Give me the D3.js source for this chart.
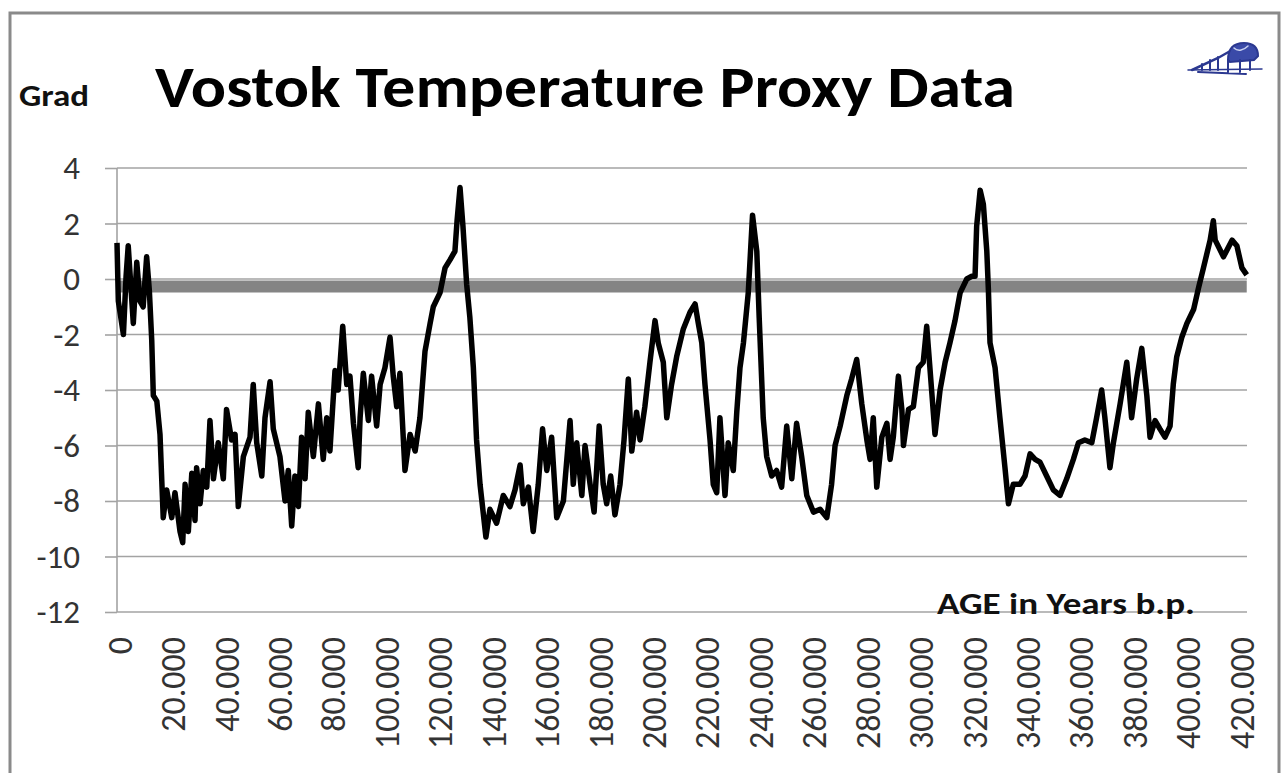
<!DOCTYPE html>
<html>
<head>
<meta charset="utf-8">
<script src="https://cdnjs.cloudflare.com/ajax/libs/d3/7.8.5/d3.min.js"></script>
<style>
  html, body { margin: 0; padding: 0; background: #fff; }
  svg text { font-family: Carlito, Calibri, Lato, sans-serif; }
</style>
</head>
<body>
<div id="plot"></div>
<script>
// Age (years b.p.) and temperature difference (Grad)
let ages = [
    0, 500, 2400, 3400, 4200, 6100, 7400, 8600, 9800, 11100,
    12100, 13000, 13600, 14900, 16100, 17300, 18600, 20500, 21700, 23600,
    24600, 25500, 26700, 28000, 29200, 29800, 31100, 32300, 33600, 34800,
    36100, 37900, 39800, 41000, 42900, 44200, 45400, 47300, 49800, 51000,
    52300, 54200, 55400, 57300, 58500, 61000, 62900, 64100, 65400, 66600,
    67900, 69100, 70400, 71600, 73500, 75400, 77200, 78500, 79700, 81600,
    82800, 84500, 86000, 87200, 88500, 90300, 91000, 92200, 94100, 95300,
    97200, 98500, 100300, 102200, 103400, 104700, 105900, 107800, 109700, 111600,
    113400, 115300, 117200, 118400, 120900, 122800, 124700, 126500, 127300, 128400,
    129500, 130900, 132100, 133400, 134600, 135900, 138100, 139600, 142100, 144600,
    147100, 149000, 150900, 152100, 154000, 155800, 157700, 159300, 160900, 162700,
    164600, 167100, 169600, 170800, 172100, 174000, 175200, 177100, 178600, 180500,
    182000, 183300, 184800, 186400, 188300, 189800, 191400, 192700, 194500, 195800,
    197600, 199500, 201400, 202600, 204500, 205800, 207600, 209500, 212000, 214500,
    216400, 217600, 218900, 220100, 222000, 223200, 224500, 225700, 227600, 228800,
    230700, 232000, 233200, 234500, 236300, 237900, 239500, 240400, 241900, 243200,
    245100, 246900, 248800, 250700, 252600, 254400, 256300, 258200, 260700, 263200,
    265700, 267500, 268800, 270700, 273200, 275000, 276900, 278800, 280700, 281900,
    283100, 284400, 286300, 288200, 289400, 290600, 292500, 293800, 294400, 296300,
    298100, 300000, 301800, 303100, 304300, 306200, 308100, 310000, 311800, 313700,
    315600, 318100, 320000, 321200, 321800, 323100, 324300, 325600, 326200, 326800,
    328700, 330500, 332400, 333700, 335500, 338000, 339900, 341800, 343700, 345500,
    348000, 350500, 353000, 355500, 358000, 359900, 362300, 364900, 366700, 368600,
    369800, 371700, 373000, 375500, 378000, 379800, 381700, 383600, 385500, 386700,
    388600, 390400, 392300, 394200, 395400, 396700, 398600, 400500, 403000, 404900,
    406700, 409200, 410400, 411100, 414200, 417400, 419200, 421100, 422900
];

let temps = [
    1.3, -0.8, -2.0, 0.1, 1.2, -1.6, 0.6, -0.8, -1.0, 0.8,
    -0.4, -2.2, -4.2, -4.4, -5.6, -8.6, -7.6, -8.6, -7.7, -9.1,
    -9.5, -7.4, -9.1, -7.0, -8.7, -6.8, -8.1, -6.9, -7.5, -5.1,
    -7.2, -5.9, -7.2, -4.7, -5.8, -5.6, -8.2, -6.4, -5.7, -3.8,
    -5.9, -7.1, -5.0, -3.7, -5.4, -6.4, -8.0, -6.9, -8.9, -7.1,
    -8.2, -5.7, -7.2, -4.8, -6.4, -4.5, -6.5, -5.0, -6.2, -3.3,
    -4.0, -1.7, -3.8, -3.5, -5.2, -6.8, -5.0, -3.4, -5.1, -3.5,
    -5.3, -3.8, -3.2, -2.1, -3.5, -4.6, -3.4, -6.9, -5.6, -6.2,
    -5.0, -2.6, -1.6, -1.0, -0.5, 0.4, 0.7, 1.0, 2.1, 3.3,
    1.9, -0.2, -1.4, -3.2, -5.8, -7.4, -9.3, -8.3, -8.8, -7.8,
    -8.2, -7.6, -6.7, -8.1, -7.5, -9.1, -7.4, -5.4, -6.9, -5.7,
    -8.6, -8.0, -5.1, -7.4, -5.9, -7.8, -6.0, -7.4, -8.4, -5.3,
    -7.4, -8.1, -7.1, -8.5, -7.4, -5.8, -3.6, -6.2, -4.8, -5.8,
    -4.6, -3.0, -1.5, -2.3, -3.0, -5.0, -3.8, -2.8, -1.8, -1.2,
    -0.9, -1.6, -2.3, -3.8, -5.8, -7.4, -7.7, -5.0, -7.8, -5.9,
    -6.9, -4.8, -3.2, -2.3, -0.5, 2.3, 1.0, -1.4, -5.0, -6.4,
    -7.1, -6.9, -7.5, -5.3, -7.2, -5.2, -6.4, -7.8, -8.4, -8.3,
    -8.6, -7.4, -6.0, -5.3, -4.2, -3.6, -2.9, -4.5, -5.8, -6.5,
    -5.0, -7.5, -5.7, -5.2, -6.5, -5.7, -3.5, -4.7, -6.0, -4.7,
    -4.6, -3.2, -3.0, -1.7, -3.2, -5.6, -4.0, -3.0, -2.3, -1.5,
    -0.5, 0.0, 0.1, 0.1, 1.9, 3.2, 2.7, 1.0, -0.4, -2.3,
    -3.2, -5.0, -6.8, -8.1, -7.4, -7.4, -7.1, -6.3, -6.5, -6.6,
    -7.1, -7.6, -7.8, -7.2, -6.5, -5.9, -5.8, -5.9, -5.0, -4.0,
    -5.0, -6.8, -5.9, -4.5, -3.0, -5.0, -3.6, -2.5, -4.2, -5.7,
    -5.1, -5.4, -5.7, -5.3, -3.8, -2.8, -2.1, -1.6, -1.1, -0.3,
    0.4, 1.4, 2.1, 1.4, 0.8, 1.4, 1.2, 0.4, 0.15
];

// Grey reference band across the whole record
let bandAges = [0, 422900];
let bandTemps = [-0.27, -0.27];

let yTicks = [4, 2, 0, -2, -4, -6, -8, -10, -12];
let xTicks = d3.range(0, 420001, 20000);

let titleText = 'Vostok Temperature Proxy Data';
let unitText = 'Grad';
let xAxisTitle = 'AGE in Years b.p.';

let svgWidth = 1283;
let svgHeight = 773;

let margin = {
    top: 168,
    right: 36,
    bottom: 161,
    left: 117
};

let chartWidth = svgWidth - margin.left - margin.right;
let chartHeight = svgHeight - margin.top - margin.bottom;

let $svg = d3.select('#plot')
    .append('svg')
    .attr('width', svgWidth)
    .attr('height', svgHeight)
    .style('display', 'block');

$svg.append('rect')
    .attr('width', svgWidth)
    .attr('height', svgHeight)
    .attr('fill', '#fff');

// outer frame
$svg.append('rect')
    .attr('x', 10)
    .attr('y', 13)
    .attr('width', 1269)
    .attr('height', 790)
    .attr('fill', 'none')
    .attr('stroke', '#8a8a8a')
    .attr('stroke-width', 3);

let $chartGroup = $svg.append('g')
    .attr('transform', `translate(${margin.left}, ${margin.top})`);

// German style number format: 20.000
let deLocale = d3.formatLocale({ decimal: ',', thousands: '.', grouping: [3], currency: ['', ' €'] });
let fmt = deLocale.format(',');

let xLinearScale = d3.scaleLinear()
    .domain([0, 423000])
    .range([0, chartWidth]);

let yLinearScale = d3.scaleLinear()
    .domain([-12, 4])
    .range([chartHeight, 0]);

// gridlines
$chartGroup.append('g')
    .selectAll('line')
    .data(yTicks)
    .enter()
    .append('line')
    .attr('x1', 0)
    .attr('x2', chartWidth)
    .attr('y1', d => yLinearScale(d))
    .attr('y2', d => yLinearScale(d))
    .attr('stroke', '#a3a3a3')
    .attr('stroke-width', 1.6);

// y axis
let leftAxis = d3.axisLeft(yLinearScale)
    .tickValues(yTicks)
    .tickSize(12)
    .tickPadding(25)
    .tickFormat(d => d);

let $yAxis = $chartGroup.append('g')
    .attr('id', 'y-axis')
    .call(leftAxis);

$yAxis.select('.domain').remove();
$yAxis.selectAll('line').attr('stroke', '#a3a3a3').attr('stroke-width', 1.6);
$yAxis.selectAll('text')
    .attr('fill', '#333')
    .style('font-size', '33px');

$chartGroup.append('line')
    .attr('x1', 0)
    .attr('x2', 0)
    .attr('y1', 0)
    .attr('y2', chartHeight)
    .attr('stroke', '#a3a3a3')
    .attr('stroke-width', 1.6);

// x axis labels, rotated
let bottomAxis = d3.axisBottom(xLinearScale)
    .tickValues(xTicks)
    .tickSize(0)
    .tickFormat(fmt);

let $xAxis = $chartGroup.append('g')
    .attr('id', 'x-axis')
    .attr('transform', `translate(0, ${chartHeight})`)
    .call(bottomAxis);

$xAxis.select('.domain').remove();
$xAxis.selectAll('text')
    .attr('transform', 'rotate(-90)')
    .attr('x', -25)
    .attr('y', 2)
    .attr('dx', 0)
    .attr('dy', '0.36em')
    .attr('text-anchor', 'end')
    .attr('fill', '#333')
    .style('font-size', '34px');

// grey band
let bandLine = d3.line()
    .x(d => xLinearScale(d[0]))
    .y(d => yLinearScale(d[1]));

$chartGroup.append('path')
    .datum(d3.zip(bandAges, bandTemps))
    .attr('d', bandLine)
    .attr('fill', 'none')
    .attr('stroke', '#848484')
    .attr('stroke-width', 12);

// temperature line
let tempLine = d3.line()
    .x(d => xLinearScale(d[0]))
    .y(d => yLinearScale(d[1]));

$chartGroup.append('path')
    .datum(d3.zip(ages, temps))
    .attr('d', tempLine)
    .attr('fill', 'none')
    .attr('stroke', '#000')
    .attr('stroke-width', 5.5)
    .attr('stroke-linejoin', 'round');

// titles
$svg.append('text')
    .attr('x', 155)
    .attr('y', 107)
    .attr('textLength', 860)
    .attr('lengthAdjust', 'spacingAndGlyphs')
    .style('font-size', '58px')
    .style('font-weight', 'bold')
    .attr('fill', '#000')
    .text(titleText);

$svg.append('text')
    .attr('x', 19)
    .attr('y', 106)
    .attr('textLength', 70)
    .attr('lengthAdjust', 'spacingAndGlyphs')
    .style('font-size', '30px')
    .style('font-weight', 'bold')
    .attr('fill', '#111')
    .text(unitText);

$svg.append('text')
    .attr('x', 937)
    .attr('y', 614)
    .attr('textLength', 258)
    .attr('lengthAdjust', 'spacingAndGlyphs')
    .style('font-size', '30px')
    .style('font-weight', 'bold')
    .attr('fill', '#111')
    .text(xAxisTitle);

// small blue logo, top right
let $logo = $svg.append('g')
    .attr('transform', 'translate(1188, 40)')
    .attr('fill', 'none')
    .attr('stroke', '#2b3890')
    .attr('stroke-linecap', 'round');

$logo.append('path')
    .attr('d', 'M0,30 L74,29')
    .attr('stroke-width', 1.5);
$logo.append('path')
    .attr('d', 'M4,30 L30,18 L44,10')
    .attr('stroke-width', 2.5);
$logo.append('path')
    .attr('d', 'M40,20 C40,8 46,3 56,3 C66,3 70,8 70,16 L66,20 L42,22 Z')
    .attr('fill', '#3a4aa8')
    .attr('stroke-width', 2);
$logo.append('path')
    .attr('d', 'M14,30 L14,24 M22,30 L22,20 M30,30 L30,17 M40,32 L40,20 M52,32 L52,20 M62,30 L62,20 M10,32 L58,34')
    .attr('stroke-width', 2);
$logo.append('path')
    .attr('d', 'M46,8 C50,12 56,10 60,6')
    .attr('stroke', '#c8d0f0')
    .attr('stroke-width', 1.5);
</script>
</body>
</html>
